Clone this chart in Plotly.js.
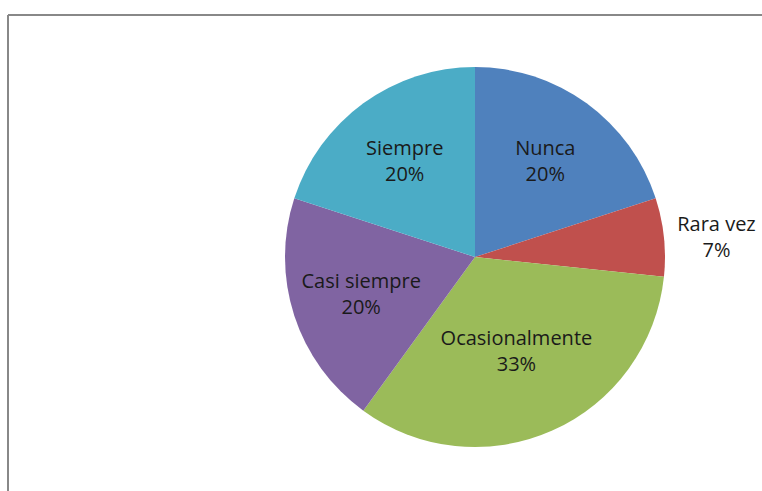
<!DOCTYPE html>
<html>
<head>
<meta charset="utf-8">
<script src="https://cdn.plot.ly/plotly-3.0.1.min.js"></script>
<style>html,body{margin:0;padding:0;background:#fff;}#chart{width:762px;height:491px;}</style>
</head>
<body>
<div id="chart"></div>
<script>
const categories = ["Nunca", "Rara vez", "Ocasionalmente", "Casi siempre", "Siempre"];
const values = [3, 1, 5, 3, 3];
const colors = ["#4F81BD", "#C0504D", "#9BBB59", "#8064A2", "#4BACC6"];
const textPositions = ["inside", "outside", "inside", "inside", "inside"];

const font = {family: "'Open Sans', 'Noto Sans', sans-serif", size: 20, color: "#1a1a1a"};

const trace = {
  type: "pie",
  labels: categories,
  values: values,
  sort: false,
  direction: "clockwise",
  rotation: 0,
  marker: {colors: colors, line: {width: 0}},
  textinfo: "label+percent",
  texttemplate: "%{label}<br>%{percent:.0%}",
  textposition: textPositions,
  insidetextorientation: "horizontal",
  textfont: font,
  insidetextfont: font,
  outsidetextfont: font,
  hoverinfo: "none",
  showlegend: false,
  domain: {x: [0.374, 0.8727], y: [0.0896, 0.8635]}
};

const layout = {
  width: 762, height: 491,
  margin: {l: 0, r: 0, t: 0, b: 0},
  paper_bgcolor: "#fff",
  showlegend: false,
  shapes: [
    {type: "line", xref: "paper", yref: "paper", x0: 8/762, x1: 1.01, y0: 1 - 15/491, y1: 1 - 15/491, line: {color: "#888", width: 2}},
    {type: "line", xref: "paper", yref: "paper", x0: 8/762, x1: 8/762, y0: -0.01, y1: 1 - 15/491, line: {color: "#888", width: 2}}
  ]
};

Plotly.newPlot("chart", [trace], layout, {displayModeBar: false, staticPlot: true});
</script>
</body>
</html>
